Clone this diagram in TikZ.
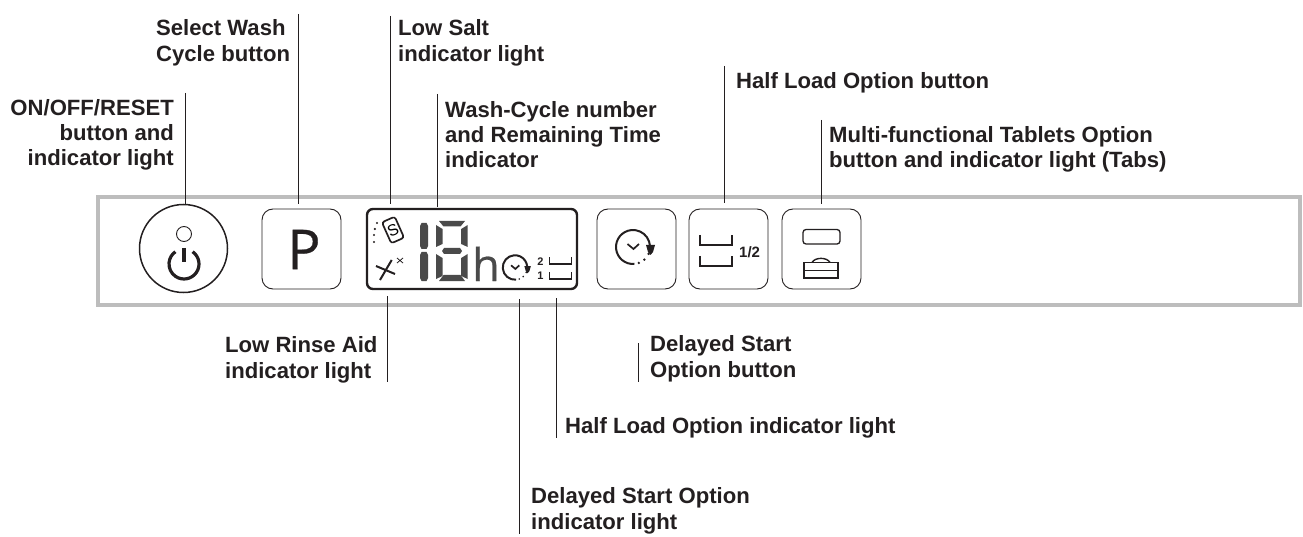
\documentclass[tikz,border=0pt]{standalone}
\usepackage{fontspec}
\setmainfont{Liberation Sans}
\newfontfamily\glyphfont[FakeBold=0.5]{Open Sans}
\definecolor{ink}{HTML}{231F20}
\definecolor{panelgrey}{HTML}{BDBDBD}
\definecolor{seggrey}{HTML}{4A4A4A}
\newcommand{\vsegm}[4]{\fill[seggrey] (#1,#3+2) -- (#2,#3+6) -- (#2,#4-5) -- (#1,#4-2) -- cycle;}
\newcommand{\vsegr}[4]{\fill[seggrey] (#2,#3+2) -- (#1,#3+6) -- (#1,#4-5) -- (#2,#4-2) -- cycle;}
\newcommand{\vsegb}[4]{\fill[seggrey] (#1+1.5,#3) -- (#2-1.5,#3) -- (#2,#3+3) -- (#2,#4-3) -- (#2-1.5,#4) -- (#1+1.5,#4) -- (#1,#4-3) -- (#1,#3+3) -- cycle;}
\tikzset{
  label/.style={font=\fontsize{22.1}{25.3}\selectfont\bfseries, text=ink, inner sep=0pt, anchor=north west, align=left},
  labelr/.style={font=\fontsize{22.1}{25.3}\selectfont\bfseries, text=ink, inner sep=0pt, anchor=north east, align=right},
  lead/.style={draw=ink, line width=0.9pt},
  btn/.style={draw=ink, line width=0.9pt, rounded corners=11pt},
  clockicon/.pic={
    \draw[ink, line width=2pt] (85:17) arc[start angle=85, end angle=356, radius=17];
    \fill[ink] (24:17) circle (1.3) (48:17) circle (1.3) (70:17) circle (1.3);
    \fill[ink] (13,-2) -- (22,-2) -- (20,5) -- (17.5,8) -- (15,5) -- cycle;
    \draw[ink, line width=1.7pt] (-5.5,-3) -- (0.5,2) -- (6,-3);
  }
}
\begin{document}
\begin{tikzpicture}[x=1pt,y=-1pt]
\useasboundingbox (0,0) rectangle (1303,537);
% panel
\node[draw=panelgrey, line width=4pt, inner sep=0pt, minimum width=1202pt, minimum height=107pt, anchor=north west] (panel) at (96,195.5) {};
% buttons
\node[draw=ink, line width=1.5pt, circle, inner sep=0pt, minimum size=88pt] (power) at (183.5,248.5) {};
\node[btn, inner sep=0pt, minimum width=79pt, minimum height=80pt] (pbtn) at (301.5,249) {};
\node[font=\glyphfont\fontsize{55}{55}\selectfont, text=ink, inner sep=0pt] (pglyph) at (304,249.5) {P};
\node[draw=ink, line width=2.4pt, rounded corners=6pt, inner sep=0pt, minimum width=210pt, minimum height=80pt] (lcd) at (472,249) {};
\node[btn, inner sep=0pt, minimum width=79pt, minimum height=80pt] (clockbtn) at (636.5,249) {};
\node[btn, inner sep=0pt, minimum width=79pt, minimum height=80pt] (halfbtn) at (728.5,249) {};
\node[btn, inner sep=0pt, minimum width=79pt, minimum height=80pt] (tabsbtn) at (821.5,249) {};
% power icon
\node[draw=ink, line width=0.9pt, circle, inner sep=0pt, minimum size=15pt] (led) at (184,234) {};
\draw[ink, line width=3.2pt] (184,264) ++(-55:15) arc[start angle=-55, end angle=235, radius=15];
\draw[ink, line width=3.2pt] (184,248) -- (184,262);
% clock button icon
\pic at (633,247) {clockicon};
% half load icon
\draw[ink, line width=2pt] (699.5,235) -- (699.5,245) -- (731.5,245) -- (731.5,235);
\draw[ink, line width=2pt] (699.5,256) -- (699.5,266) -- (731.5,266) -- (731.5,256);
\node[font=\fontsize{15}{15}\selectfont\bfseries, text=ink, inner sep=0pt, anchor=west] (half) at (739,252) {1/2};
% tabs icon
\draw[ink, line width=1.3pt, rounded corners=3pt] (803,229.5) rectangle (840,244);
\draw[ink, line width=1.4pt] (804,262.5) rectangle (838,278);
\draw[ink, line width=1.4pt] (804,270.5) -- (838,270.5);
\draw[ink, line width=1.4pt] (812,262.5) .. controls (815,257) and (827,257) .. (830,262.5);
% LCD: salt
\node[draw=ink, line width=1.7pt, rounded corners=2.5pt, rotate=24, inner sep=0pt, minimum width=14pt, minimum height=23pt, font=\fontsize{16}{16}\selectfont] (salt) at (393,230) {S};
\fill[ink] (377,223) circle (1.2) (374.8,229) circle (1.2) (374,235) circle (1.2) (374,242) circle (1.2);
% rinse
\draw[ink, line width=2pt] (376,266) -- (395,274) (380,280) -- (391.7,260);
\draw[ink, line width=0.8pt] (397,258) -- (403,263) (403,258) -- (397,263);
% digits
\vsegb{420}{428}{223}{249}
\vsegb{420}{428}{252}{281}
\vsegm{436}{442.5}{223}{249}
\vsegm{436}{442.5}{252}{281}
\vsegr{461.2}{467.7}{223}{249}
\vsegr{461.2}{467.7}{252}{281}
\fill[seggrey] (439,221) -- (465,221) -- (460.5,226.5) -- (443.5,226.5) -- cycle;
\fill[seggrey] (444,248) -- (460,248) -- (462,251) -- (460,254) -- (444,254) -- (442,251) -- cycle;
\fill[seggrey] (443.5,275) -- (460.5,275) -- (465,281) -- (439,281) -- cycle;
\node[font=\glyphfont\fontsize{45}{45}\selectfont, text=seggrey, inner sep=0pt, anchor=base west] (hglyph) at (472,281) {h};
\pic[scale=0.72] at (515,267.5) {clockicon};
\node[font=\fontsize{11}{11}\selectfont\bfseries, text=ink, inner sep=0pt] (two) at (540.5,262) {2};
\node[font=\fontsize{11}{11}\selectfont\bfseries, text=ink, inner sep=0pt] (one) at (540.5,275.5) {1};
\draw[ink, line width=1.5pt] (549.5,257.5) -- (549.5,264) -- (571.5,264) -- (571.5,257.5);
\draw[ink, line width=1.5pt] (549.5,272.5) -- (549.5,279) -- (571.5,279) -- (571.5,272.5);
% labels
\node[labelr] (lbon) at (174,99) {ON/OFF/RESET\\button and\\indicator light};
\node[label] (lbsel) at (156,19.5) {Select Wash\\Cycle button};
\node[label] (lbsalt) at (398,19.5) {Low Salt\\indicator light};
\node[label] (lbwash) at (445,101) {Wash-Cycle number\\and Remaining Time\\indicator};
\node[label] (lbhalf) at (736,72.5) {Half Load Option button};
\node[label] (lbmulti) at (829,126) {Multi-functional Tablets Option\\button and indicator light (Tabs)};
\node[label] (lbrinse) at (225,336.5) {Low Rinse Aid\\indicator light};
\node[label] (lbdel) at (650,335.5) {Delayed Start\\Option button};
\node[label] (lbhalfi) at (565,417.5) {Half Load Option indicator light};
\node[label] (lbdeli) at (531,487.5) {Delayed Start Option\\indicator light};
% leader lines
\coordinate (onT) at (185,93);
\coordinate (onB) at (185,205);
\coordinate (selT) at (298.5,14);
\coordinate (selB) at (298.5,204);
\coordinate (saltT) at (390,16);
\coordinate (saltB) at (390,204);
\coordinate (washT) at (437,94);
\coordinate (washB) at (437,207);
\coordinate (halfT) at (724,66);
\coordinate (halfB) at (724,203);
\coordinate (multiT) at (821,120);
\coordinate (multiB) at (821,204);
\coordinate (rinseT) at (387,296);
\coordinate (rinseB) at (387,381.5);
\coordinate (deliT) at (519,299);
\coordinate (deliB) at (519,534);
\coordinate (halfiT) at (556.5,298);
\coordinate (halfiB) at (556.5,438);
\coordinate (delT) at (638,343);
\coordinate (delB) at (638,382);
\draw[lead] (onT) -- (onB);
\draw[lead] (selT) -- (selB);
\draw[lead] (saltT) -- (saltB);
\draw[lead] (washT) -- (washB);
\draw[lead] (halfT) -- (halfB);
\draw[lead] (multiT) -- (multiB);
\draw[lead] (rinseT) -- (rinseB);
\draw[lead] (deliT) -- (deliB);
\draw[lead] (halfiT) -- (halfiB);
\draw[lead] (delT) -- (delB);
\end{tikzpicture}
\end{document}
